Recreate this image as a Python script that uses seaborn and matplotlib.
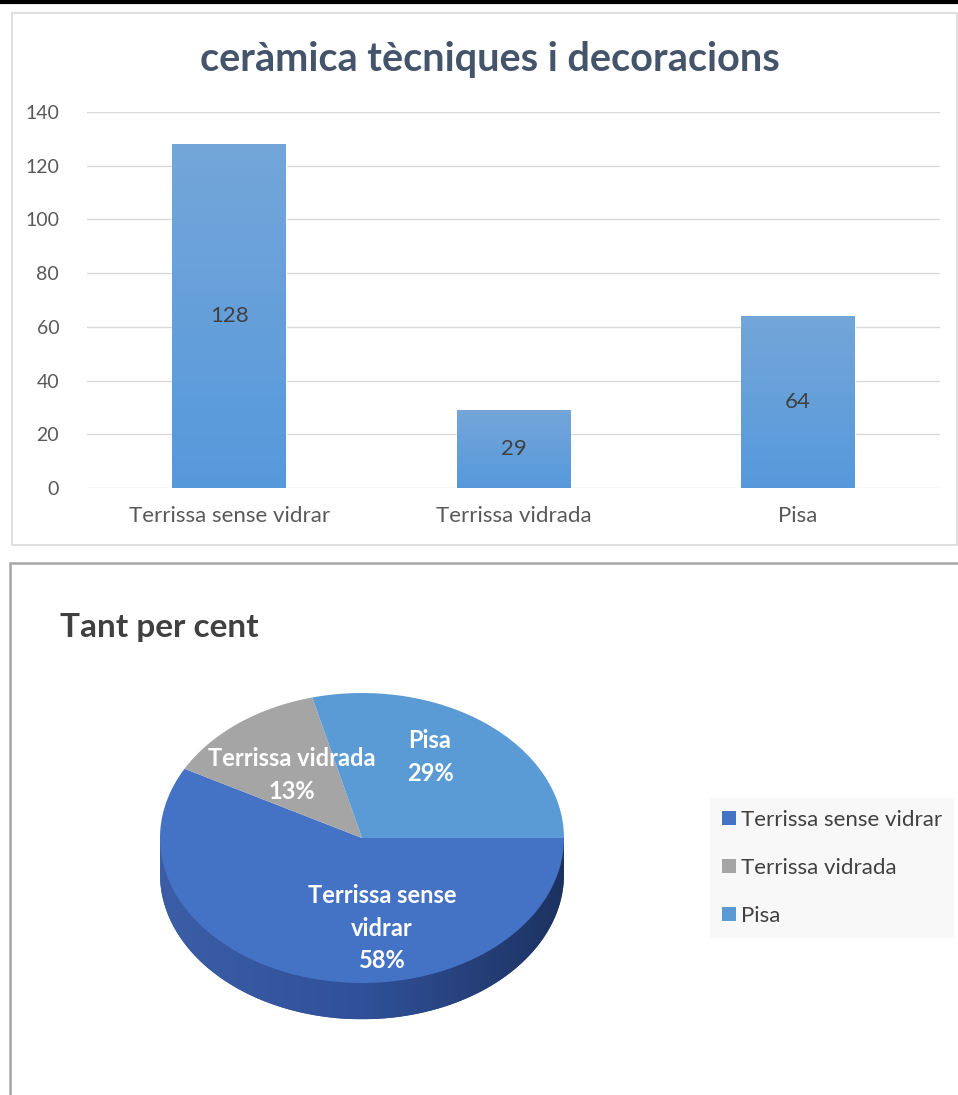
import numpy as np
import matplotlib
matplotlib.use("Agg")
import matplotlib.pyplot as plt
import seaborn as sns
from matplotlib.patches import Rectangle, Polygon, Patch
from matplotlib.lines import Line2D
from matplotlib.colors import LinearSegmentedColormap

# data
categories = ["Terrissa sense vidrar", "Terrissa vidrada", "Pisa"]
counts = [128, 29, 64]
pie_labels = ["Terrissa sense\nvidrar", "Terrissa vidrada", "Pisa"]
pie_colors = ["#4472C4", "#A5A5A5", "#5B9BD5"]
yticks = [0, 20, 40, 60, 80, 100, 120, 140]

sns.set_theme(style="white")
plt.rcParams["font.family"] = ["Lato", "DejaVu Sans"]

W, H = 958, 1095
fig = plt.figure(figsize=(W / 100, H / 100), dpi=100)


def box(x0, y0, x1, y1):
    # pixel box (top-left origin) -> figure fraction rect
    return [x0 / W, 1 - y1 / H, (x1 - x0) / W, (y1 - y0) / H]


# frames
fig.add_artist(Line2D([0, 1], [1 - 2 / H, 1 - 2 / H], color="black", lw=3, transform=fig.transFigure))
fig.add_artist(Rectangle((12 / W, 1 - 545 / H), 945 / W, 532 / H, transform=fig.transFigure,
                         fill=False, edgecolor="#D9D9D9", lw=1.2))
fig.add_artist(Rectangle((10 / W, 1 - 1100 / H), 960 / W, 537 / H, transform=fig.transFigure,
                         fill=False, edgecolor="#A6A6A6", lw=1.8))

# ---- bar chart
ax = fig.add_axes(box(87, 112, 940, 488))
sns.barplot(x=categories, y=counts, color="#5B9BD5", width=0.4, saturation=1, ax=ax)
ax.set_ylim(0, 140)
ax.set_yticks(yticks)
ax.set_xlabel("")
ax.set_ylabel("")
for s in ax.spines.values():
    s.set_visible(False)
ax.yaxis.grid(True, color="#D9D9D9", lw=1)
ax.set_axisbelow(True)
ax.tick_params(axis="y", length=0, pad=20, labelsize=14, labelcolor="#595959")
ax.tick_params(axis="x", length=0, pad=13, labelsize=16, labelcolor="#595959")

# vertical gradient on bars
cmap = LinearSegmentedColormap.from_list("g", ["#5699DC", "#74A6D9"])
grad = np.linspace(0, 1, 256).reshape(-1, 1)
for p in list(ax.patches):
    x0, y0 = p.get_x(), p.get_y()
    w, h = p.get_width(), p.get_height()
    im = ax.imshow(grad, cmap=cmap, extent=[x0, x0 + w, y0, y0 + h], origin="lower",
                   aspect="auto", zorder=p.get_zorder() + 0.1)
    im.set_clip_path(p)
ax.set_xlim(-0.5, 2.5)
ax.set_ylim(0, 140)
ax.bar_label(ax.containers[0], label_type="center", fontsize=16, color="#404040")
for t in ax.texts:
    t.set_zorder(5)

fig.text(490 / W, 1 - 60 / H, "ceràmica tècniques i decoracions", ha="center", va="center",
         fontsize=28.5, fontweight="bold", color="#44546A")

# ---- pie chart
fig.text(60 / W, 1 - 627 / H, "Tant per cent", ha="left", va="center",
         fontsize=24, fontweight="bold", color="#404040")

cx, cy, rx, ry = 362, 838, 202, 145
px0, px1, py0, py1 = 112, 612, 660, 1060
ax2 = fig.add_axes(box(px0, py0, px1, py1))
depth = 0.25

# side of the cylinder
t = np.linspace(2 * np.pi, np.pi, 200)
side = np.vstack([[[1, 0]], np.column_stack([np.cos(t), -depth + np.sin(t)]), [[-1, 0]]])
side_patch = Polygon(side, closed=True, facecolor="#2E4D8C", edgecolor="none")
ax2.add_patch(side_patch)
side_cmap = LinearSegmentedColormap.from_list("s", ["#3B5EA6", "#30519A", "#1D3260"])
hgrad = np.linspace(0, 1, 256).reshape(1, -1)
im2 = ax2.imshow(hgrad, cmap=side_cmap, extent=[-1, 1, -1 - depth, 0], aspect="auto", zorder=1)
im2.set_clip_path(side_patch)

wedges, _ = ax2.pie(counts, colors=pie_colors, startangle=0, counterclock=False,
                    wedgeprops=dict(linewidth=0))
for w_ in wedges:
    w_.set_zorder(2)
ax2.set_aspect("auto")
ax2.set_xlim(-(cx - px0) / rx, (px1 - cx) / rx)
ax2.set_ylim(-(py1 - cy) / ry, (cy - py0) / ry)
ax2.axis("off")

total = sum(counts)
label_pos = [(382, 928), (292, 775), (430, 757)]
for lab, val, (lx, ly) in zip(pie_labels, counts, label_pos):
    ax2.text((lx - cx) / rx, (cy - ly) / ry, f"{lab}\n{val / total:.0%}", ha="center", va="center",
             fontsize=17, fontweight="bold", color="white", linespacing=1.5, zorder=5)

handles = [Patch(facecolor=c, edgecolor="none") for c in pie_colors]
leg = fig.legend(handles, categories, loc="center left", bbox_to_anchor=(710 / W, 1 - 868 / H),
                 frameon=True, fontsize=16, handlelength=0.6, handleheight=0.6, handletextpad=0.25,
                 labelspacing=1.25, borderpad=0.55, borderaxespad=0, fancybox=False)
leg.get_frame().set_facecolor("#F7F7F7")
leg.get_frame().set_edgecolor("none")
for txt in leg.get_texts():
    txt.set_color("#404040")

fig.savefig("out.png", dpi=100)
